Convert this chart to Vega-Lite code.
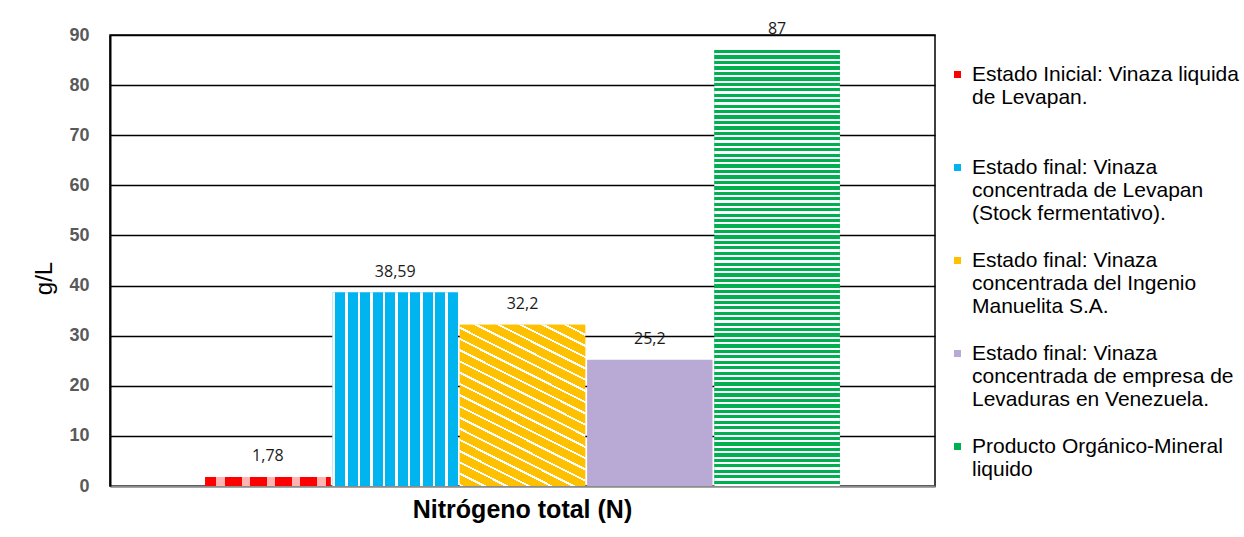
{
  "$schema": "https://vega.github.io/schema/vega-lite/v6.json",
  "width": 825,
  "height": 451,
  "autosize": {"type": "none"},
  "padding": {"left": 110, "top": 35, "right": 309, "bottom": 51},
  "background": "white",
  "config": {
    "locale": {"number": {"decimal": ",", "thousands": ".", "grouping": [3], "currency": ["", " €"]}},
    "view": {"stroke": "#000", "strokeWidth": 1.5},
    "font": "Liberation Sans"
  },
  "data": {
    "values": [
      {"categoria": "Nitrógeno total (N)", "serie": "Estado Inicial: Vinaza liquida|de Levapan.", "valor": 1.78},
      {"categoria": "Nitrógeno total (N)", "serie": "Estado final: Vinaza|concentrada de Levapan|(Stock fermentativo).", "valor": 38.59},
      {"categoria": "Nitrógeno total (N)", "serie": "Estado final: Vinaza|concentrada del Ingenio|Manuelita S.A.", "valor": 32.2},
      {"categoria": "Nitrógeno total (N)", "serie": "Estado final: Vinaza|concentrada de empresa de|Levaduras en Venezuela.", "valor": 25.2},
      {"categoria": "Nitrógeno total (N)", "serie": "Producto Orgánico-Mineral|liquido", "valor": 87}
    ]
  },
  "encoding": {
    "x": {
      "field": "categoria", "type": "nominal", "title": null,
      "scale": {"paddingInner": 0, "paddingOuter": 0.15},
      "axis": {"labelAngle": 0, "labelFontSize": 25, "labelFontWeight": "bold", "labelColor": "#000", "labelPadding": 11, "labelLimit": 0, "ticks": false, "domainColor": "#8c8c8c", "domainWidth": 2}
    },
    "xOffset": {"field": "serie", "type": "nominal", "sort": null, "scale": {"paddingInner": 0.015}},
    "y": {
      "field": "valor", "type": "quantitative", "title": "g/L",
      "scale": {"domain": [0, 90]},
      "axis": {"values": [0, 10, 20, 30, 40, 50, 60, 70, 80, 90], "gridColor": "#000", "gridWidth": 1.5, "ticks": false, "domainColor": "#000", "domainWidth": 2, "labelFontSize": 18, "labelFontWeight": "bold", "labelColor": "#595959", "labelPadding": 21, "titleFontSize": 24, "titleFontWeight": "normal", "titleColor": "#000", "titlePadding": 12, "titleY": 243}
    }
  },
  "layer": [
    {
      "mark": {"type": "bar"},
      "encoding": {
        "color": {
          "field": "serie", "type": "nominal", "sort": null,
          "scale": {"range": ["#FF0000", "#00B4F0", "#FFC000", "#B9AAD5", "#00B050"]},
          "legend": {"title": null, "orient": "none", "legendX": 837, "legendY": 29, "symbolType": "square", "symbolSize": 49, "symbolStrokeWidth": 0, "labelFontSize": 21, "labelColor": "#000", "labelLimit": 0, "labelOffset": 4, "rowPadding": 25, "padding": 0, "labelExpr": "split(datum.label + (indexof(datum.label, 'Inicial') >= 0 ? '| ' : ''), '|')"}
        }
      }
    },
    {
      "transform": [{"filter": "indexof(datum.serie, 'Inicial') >= 0"}],
      "mark": {"type": "bar", "color": {"gradient": "linear", "x1": 0, "y1": 0, "x2": 1, "y2": 0, "stops": [
        {"offset": 0, "color": "#FF0000"}, {"offset": 0.09, "color": "#FF0000"}, {"offset": 0.09, "color": "#FFB3B3"}, {"offset": 0.16, "color": "#FFB3B3"}, {"offset": 0.16, "color": "#FF0000"},
        {"offset": 0.29, "color": "#FF0000"}, {"offset": 0.29, "color": "#FFB3B3"}, {"offset": 0.36, "color": "#FFB3B3"}, {"offset": 0.36, "color": "#FF0000"},
        {"offset": 0.49, "color": "#FF0000"}, {"offset": 0.49, "color": "#FFB3B3"}, {"offset": 0.56, "color": "#FFB3B3"}, {"offset": 0.56, "color": "#FF0000"},
        {"offset": 0.69, "color": "#FF0000"}, {"offset": 0.69, "color": "#FFB3B3"}, {"offset": 0.76, "color": "#FFB3B3"}, {"offset": 0.76, "color": "#FF0000"},
        {"offset": 0.89, "color": "#FF0000"}, {"offset": 0.89, "color": "#FFB3B3"}, {"offset": 0.96, "color": "#FFB3B3"}, {"offset": 0.96, "color": "#FF0000"}, {"offset": 1, "color": "#FF0000"}
      ]}},
      "encoding": {}
    },
    {
      "transform": [{"filter": "indexof(datum.serie, 'Stock') >= 0"}],
      "mark": {"type": "bar", "color": {"gradient": "linear", "x1": 0, "y1": 0, "x2": 1, "y2": 0, "stops": [
        {"offset": 0, "color": "#fff"}, {"offset": 0.02, "color": "#fff"}, {"offset": 0.02, "color": "#00B4F0"}, {"offset": 0.1, "color": "#00B4F0"},
        {"offset": 0.1, "color": "#fff"}, {"offset": 0.12, "color": "#fff"}, {"offset": 0.12, "color": "#00B4F0"}, {"offset": 0.2, "color": "#00B4F0"},
        {"offset": 0.2, "color": "#fff"}, {"offset": 0.22, "color": "#fff"}, {"offset": 0.22, "color": "#00B4F0"}, {"offset": 0.3, "color": "#00B4F0"},
        {"offset": 0.3, "color": "#fff"}, {"offset": 0.32, "color": "#fff"}, {"offset": 0.32, "color": "#00B4F0"}, {"offset": 0.4, "color": "#00B4F0"},
        {"offset": 0.4, "color": "#fff"}, {"offset": 0.42, "color": "#fff"}, {"offset": 0.42, "color": "#00B4F0"}, {"offset": 0.5, "color": "#00B4F0"},
        {"offset": 0.5, "color": "#fff"}, {"offset": 0.52, "color": "#fff"}, {"offset": 0.52, "color": "#00B4F0"}, {"offset": 0.6, "color": "#00B4F0"},
        {"offset": 0.6, "color": "#fff"}, {"offset": 0.62, "color": "#fff"}, {"offset": 0.62, "color": "#00B4F0"}, {"offset": 0.7, "color": "#00B4F0"},
        {"offset": 0.7, "color": "#fff"}, {"offset": 0.72, "color": "#fff"}, {"offset": 0.72, "color": "#00B4F0"}, {"offset": 0.8, "color": "#00B4F0"},
        {"offset": 0.8, "color": "#fff"}, {"offset": 0.82, "color": "#fff"}, {"offset": 0.82, "color": "#00B4F0"}, {"offset": 0.9, "color": "#00B4F0"},
        {"offset": 0.9, "color": "#fff"}, {"offset": 0.92, "color": "#fff"}, {"offset": 0.92, "color": "#00B4F0"}, {"offset": 1, "color": "#00B4F0"}
      ]}},
      "encoding": {}
    },
    {
      "transform": [{"filter": "indexof(datum.serie, 'Manuelita') >= 0"}],
      "mark": {"type": "bar", "color": {"gradient": "linear", "x1": 1, "y1": 0, "x2": 0.528, "y2": 1.2065, "stops": [
        {"offset": 0, "color": "#FFC000"}, {"offset": 0.04, "color": "#FFC000"}, {"offset": 0.04, "color": "#fff"}, {"offset": 0.05, "color": "#fff"},
        {"offset": 0.05, "color": "#FFC000"}, {"offset": 0.09, "color": "#FFC000"}, {"offset": 0.09, "color": "#fff"}, {"offset": 0.1, "color": "#fff"},
        {"offset": 0.1, "color": "#FFC000"}, {"offset": 0.14, "color": "#FFC000"}, {"offset": 0.14, "color": "#fff"}, {"offset": 0.15, "color": "#fff"},
        {"offset": 0.15, "color": "#FFC000"}, {"offset": 0.19, "color": "#FFC000"}, {"offset": 0.19, "color": "#fff"}, {"offset": 0.2, "color": "#fff"},
        {"offset": 0.2, "color": "#FFC000"}, {"offset": 0.24, "color": "#FFC000"}, {"offset": 0.24, "color": "#fff"}, {"offset": 0.25, "color": "#fff"},
        {"offset": 0.25, "color": "#FFC000"}, {"offset": 0.29, "color": "#FFC000"}, {"offset": 0.29, "color": "#fff"}, {"offset": 0.3, "color": "#fff"},
        {"offset": 0.3, "color": "#FFC000"}, {"offset": 0.34, "color": "#FFC000"}, {"offset": 0.34, "color": "#fff"}, {"offset": 0.35, "color": "#fff"},
        {"offset": 0.35, "color": "#FFC000"}, {"offset": 0.39, "color": "#FFC000"}, {"offset": 0.39, "color": "#fff"}, {"offset": 0.4, "color": "#fff"},
        {"offset": 0.4, "color": "#FFC000"}, {"offset": 0.44, "color": "#FFC000"}, {"offset": 0.44, "color": "#fff"}, {"offset": 0.45, "color": "#fff"},
        {"offset": 0.45, "color": "#FFC000"}, {"offset": 0.49, "color": "#FFC000"}, {"offset": 0.49, "color": "#fff"}, {"offset": 0.5, "color": "#fff"},
        {"offset": 0.5, "color": "#FFC000"}, {"offset": 0.54, "color": "#FFC000"}, {"offset": 0.54, "color": "#fff"}, {"offset": 0.55, "color": "#fff"},
        {"offset": 0.55, "color": "#FFC000"}, {"offset": 0.59, "color": "#FFC000"}, {"offset": 0.59, "color": "#fff"}, {"offset": 0.6, "color": "#fff"},
        {"offset": 0.6, "color": "#FFC000"}, {"offset": 0.64, "color": "#FFC000"}, {"offset": 0.64, "color": "#fff"}, {"offset": 0.65, "color": "#fff"},
        {"offset": 0.65, "color": "#FFC000"}, {"offset": 0.69, "color": "#FFC000"}, {"offset": 0.69, "color": "#fff"}, {"offset": 0.7, "color": "#fff"},
        {"offset": 0.7, "color": "#FFC000"}, {"offset": 0.74, "color": "#FFC000"}, {"offset": 0.74, "color": "#fff"}, {"offset": 0.75, "color": "#fff"},
        {"offset": 0.75, "color": "#FFC000"}, {"offset": 0.79, "color": "#FFC000"}, {"offset": 0.79, "color": "#fff"}, {"offset": 0.8, "color": "#fff"},
        {"offset": 0.8, "color": "#FFC000"}, {"offset": 0.84, "color": "#FFC000"}, {"offset": 0.84, "color": "#fff"}, {"offset": 0.85, "color": "#fff"},
        {"offset": 0.85, "color": "#FFC000"}, {"offset": 0.89, "color": "#FFC000"}, {"offset": 0.89, "color": "#fff"}, {"offset": 0.9, "color": "#fff"},
        {"offset": 0.9, "color": "#FFC000"}, {"offset": 0.94, "color": "#FFC000"}, {"offset": 0.94, "color": "#fff"}, {"offset": 0.95, "color": "#fff"},
        {"offset": 0.95, "color": "#FFC000"}, {"offset": 0.99, "color": "#FFC000"}, {"offset": 0.99, "color": "#fff"}, {"offset": 1, "color": "#fff"}
      ]}},
      "encoding": {}
    },
    {
      "transform": [{"filter": "indexof(datum.serie, 'Producto') >= 0"}],
      "mark": {"type": "bar", "color": {"gradient": "linear", "x1": 0, "y1": 0, "x2": 0, "y2": 1, "stops": [
        {"offset": 0, "color": "#00B050"}, {"offset": 0.0075, "color": "#00B050"}, {"offset": 0.0075, "color": "#fff"}, {"offset": 0.0125, "color": "#fff"},
        {"offset": 0.0125, "color": "#00B050"}, {"offset": 0.02, "color": "#00B050"}, {"offset": 0.02, "color": "#fff"}, {"offset": 0.025, "color": "#fff"},
        {"offset": 0.025, "color": "#00B050"}, {"offset": 0.0325, "color": "#00B050"}, {"offset": 0.0325, "color": "#fff"}, {"offset": 0.0375, "color": "#fff"},
        {"offset": 0.0375, "color": "#00B050"}, {"offset": 0.045, "color": "#00B050"}, {"offset": 0.045, "color": "#fff"}, {"offset": 0.05, "color": "#fff"},
        {"offset": 0.05, "color": "#00B050"}, {"offset": 0.0575, "color": "#00B050"}, {"offset": 0.0575, "color": "#fff"}, {"offset": 0.0625, "color": "#fff"},
        {"offset": 0.0625, "color": "#00B050"}, {"offset": 0.07, "color": "#00B050"}, {"offset": 0.07, "color": "#fff"}, {"offset": 0.075, "color": "#fff"},
        {"offset": 0.075, "color": "#00B050"}, {"offset": 0.0825, "color": "#00B050"}, {"offset": 0.0825, "color": "#fff"}, {"offset": 0.0875, "color": "#fff"},
        {"offset": 0.0875, "color": "#00B050"}, {"offset": 0.095, "color": "#00B050"}, {"offset": 0.095, "color": "#fff"}, {"offset": 0.1, "color": "#fff"},
        {"offset": 0.1, "color": "#00B050"}, {"offset": 0.1075, "color": "#00B050"}, {"offset": 0.1075, "color": "#fff"}, {"offset": 0.1125, "color": "#fff"},
        {"offset": 0.1125, "color": "#00B050"}, {"offset": 0.12, "color": "#00B050"}, {"offset": 0.12, "color": "#fff"}, {"offset": 0.125, "color": "#fff"},
        {"offset": 0.125, "color": "#00B050"}, {"offset": 0.1325, "color": "#00B050"}, {"offset": 0.1325, "color": "#fff"}, {"offset": 0.1375, "color": "#fff"},
        {"offset": 0.1375, "color": "#00B050"}, {"offset": 0.145, "color": "#00B050"}, {"offset": 0.145, "color": "#fff"}, {"offset": 0.15, "color": "#fff"},
        {"offset": 0.15, "color": "#00B050"}, {"offset": 0.1575, "color": "#00B050"}, {"offset": 0.1575, "color": "#fff"}, {"offset": 0.1625, "color": "#fff"},
        {"offset": 0.1625, "color": "#00B050"}, {"offset": 0.17, "color": "#00B050"}, {"offset": 0.17, "color": "#fff"}, {"offset": 0.175, "color": "#fff"},
        {"offset": 0.175, "color": "#00B050"}, {"offset": 0.1825, "color": "#00B050"}, {"offset": 0.1825, "color": "#fff"}, {"offset": 0.1875, "color": "#fff"},
        {"offset": 0.1875, "color": "#00B050"}, {"offset": 0.195, "color": "#00B050"}, {"offset": 0.195, "color": "#fff"}, {"offset": 0.2, "color": "#fff"},
        {"offset": 0.2, "color": "#00B050"}, {"offset": 0.2075, "color": "#00B050"}, {"offset": 0.2075, "color": "#fff"}, {"offset": 0.2125, "color": "#fff"},
        {"offset": 0.2125, "color": "#00B050"}, {"offset": 0.22, "color": "#00B050"}, {"offset": 0.22, "color": "#fff"}, {"offset": 0.225, "color": "#fff"},
        {"offset": 0.225, "color": "#00B050"}, {"offset": 0.2325, "color": "#00B050"}, {"offset": 0.2325, "color": "#fff"}, {"offset": 0.2375, "color": "#fff"},
        {"offset": 0.2375, "color": "#00B050"}, {"offset": 0.245, "color": "#00B050"}, {"offset": 0.245, "color": "#fff"}, {"offset": 0.25, "color": "#fff"},
        {"offset": 0.25, "color": "#00B050"}, {"offset": 0.2575, "color": "#00B050"}, {"offset": 0.2575, "color": "#fff"}, {"offset": 0.2625, "color": "#fff"},
        {"offset": 0.2625, "color": "#00B050"}, {"offset": 0.27, "color": "#00B050"}, {"offset": 0.27, "color": "#fff"}, {"offset": 0.275, "color": "#fff"},
        {"offset": 0.275, "color": "#00B050"}, {"offset": 0.2825, "color": "#00B050"}, {"offset": 0.2825, "color": "#fff"}, {"offset": 0.2875, "color": "#fff"},
        {"offset": 0.2875, "color": "#00B050"}, {"offset": 0.295, "color": "#00B050"}, {"offset": 0.295, "color": "#fff"}, {"offset": 0.3, "color": "#fff"},
        {"offset": 0.3, "color": "#00B050"}, {"offset": 0.3075, "color": "#00B050"}, {"offset": 0.3075, "color": "#fff"}, {"offset": 0.3125, "color": "#fff"},
        {"offset": 0.3125, "color": "#00B050"}, {"offset": 0.32, "color": "#00B050"}, {"offset": 0.32, "color": "#fff"}, {"offset": 0.325, "color": "#fff"},
        {"offset": 0.325, "color": "#00B050"}, {"offset": 0.3325, "color": "#00B050"}, {"offset": 0.3325, "color": "#fff"}, {"offset": 0.3375, "color": "#fff"},
        {"offset": 0.3375, "color": "#00B050"}, {"offset": 0.345, "color": "#00B050"}, {"offset": 0.345, "color": "#fff"}, {"offset": 0.35, "color": "#fff"},
        {"offset": 0.35, "color": "#00B050"}, {"offset": 0.3575, "color": "#00B050"}, {"offset": 0.3575, "color": "#fff"}, {"offset": 0.3625, "color": "#fff"},
        {"offset": 0.3625, "color": "#00B050"}, {"offset": 0.37, "color": "#00B050"}, {"offset": 0.37, "color": "#fff"}, {"offset": 0.375, "color": "#fff"},
        {"offset": 0.375, "color": "#00B050"}, {"offset": 0.3825, "color": "#00B050"}, {"offset": 0.3825, "color": "#fff"}, {"offset": 0.3875, "color": "#fff"},
        {"offset": 0.3875, "color": "#00B050"}, {"offset": 0.395, "color": "#00B050"}, {"offset": 0.395, "color": "#fff"}, {"offset": 0.4, "color": "#fff"},
        {"offset": 0.4, "color": "#00B050"}, {"offset": 0.4075, "color": "#00B050"}, {"offset": 0.4075, "color": "#fff"}, {"offset": 0.4125, "color": "#fff"},
        {"offset": 0.4125, "color": "#00B050"}, {"offset": 0.42, "color": "#00B050"}, {"offset": 0.42, "color": "#fff"}, {"offset": 0.425, "color": "#fff"},
        {"offset": 0.425, "color": "#00B050"}, {"offset": 0.4325, "color": "#00B050"}, {"offset": 0.4325, "color": "#fff"}, {"offset": 0.4375, "color": "#fff"},
        {"offset": 0.4375, "color": "#00B050"}, {"offset": 0.445, "color": "#00B050"}, {"offset": 0.445, "color": "#fff"}, {"offset": 0.45, "color": "#fff"},
        {"offset": 0.45, "color": "#00B050"}, {"offset": 0.4575, "color": "#00B050"}, {"offset": 0.4575, "color": "#fff"}, {"offset": 0.4625, "color": "#fff"},
        {"offset": 0.4625, "color": "#00B050"}, {"offset": 0.47, "color": "#00B050"}, {"offset": 0.47, "color": "#fff"}, {"offset": 0.475, "color": "#fff"},
        {"offset": 0.475, "color": "#00B050"}, {"offset": 0.4825, "color": "#00B050"}, {"offset": 0.4825, "color": "#fff"}, {"offset": 0.4875, "color": "#fff"},
        {"offset": 0.4875, "color": "#00B050"}, {"offset": 0.495, "color": "#00B050"}, {"offset": 0.495, "color": "#fff"}, {"offset": 0.5, "color": "#fff"},
        {"offset": 0.5, "color": "#00B050"}, {"offset": 0.5075, "color": "#00B050"}, {"offset": 0.5075, "color": "#fff"}, {"offset": 0.5125, "color": "#fff"},
        {"offset": 0.5125, "color": "#00B050"}, {"offset": 0.52, "color": "#00B050"}, {"offset": 0.52, "color": "#fff"}, {"offset": 0.525, "color": "#fff"},
        {"offset": 0.525, "color": "#00B050"}, {"offset": 0.5325, "color": "#00B050"}, {"offset": 0.5325, "color": "#fff"}, {"offset": 0.5375, "color": "#fff"},
        {"offset": 0.5375, "color": "#00B050"}, {"offset": 0.545, "color": "#00B050"}, {"offset": 0.545, "color": "#fff"}, {"offset": 0.55, "color": "#fff"},
        {"offset": 0.55, "color": "#00B050"}, {"offset": 0.5575, "color": "#00B050"}, {"offset": 0.5575, "color": "#fff"}, {"offset": 0.5625, "color": "#fff"},
        {"offset": 0.5625, "color": "#00B050"}, {"offset": 0.57, "color": "#00B050"}, {"offset": 0.57, "color": "#fff"}, {"offset": 0.575, "color": "#fff"},
        {"offset": 0.575, "color": "#00B050"}, {"offset": 0.5825, "color": "#00B050"}, {"offset": 0.5825, "color": "#fff"}, {"offset": 0.5875, "color": "#fff"},
        {"offset": 0.5875, "color": "#00B050"}, {"offset": 0.595, "color": "#00B050"}, {"offset": 0.595, "color": "#fff"}, {"offset": 0.6, "color": "#fff"},
        {"offset": 0.6, "color": "#00B050"}, {"offset": 0.6075, "color": "#00B050"}, {"offset": 0.6075, "color": "#fff"}, {"offset": 0.6125, "color": "#fff"},
        {"offset": 0.6125, "color": "#00B050"}, {"offset": 0.62, "color": "#00B050"}, {"offset": 0.62, "color": "#fff"}, {"offset": 0.625, "color": "#fff"},
        {"offset": 0.625, "color": "#00B050"}, {"offset": 0.6325, "color": "#00B050"}, {"offset": 0.6325, "color": "#fff"}, {"offset": 0.6375, "color": "#fff"},
        {"offset": 0.6375, "color": "#00B050"}, {"offset": 0.645, "color": "#00B050"}, {"offset": 0.645, "color": "#fff"}, {"offset": 0.65, "color": "#fff"},
        {"offset": 0.65, "color": "#00B050"}, {"offset": 0.6575, "color": "#00B050"}, {"offset": 0.6575, "color": "#fff"}, {"offset": 0.6625, "color": "#fff"},
        {"offset": 0.6625, "color": "#00B050"}, {"offset": 0.67, "color": "#00B050"}, {"offset": 0.67, "color": "#fff"}, {"offset": 0.675, "color": "#fff"},
        {"offset": 0.675, "color": "#00B050"}, {"offset": 0.6825, "color": "#00B050"}, {"offset": 0.6825, "color": "#fff"}, {"offset": 0.6875, "color": "#fff"},
        {"offset": 0.6875, "color": "#00B050"}, {"offset": 0.695, "color": "#00B050"}, {"offset": 0.695, "color": "#fff"}, {"offset": 0.7, "color": "#fff"},
        {"offset": 0.7, "color": "#00B050"}, {"offset": 0.7075, "color": "#00B050"}, {"offset": 0.7075, "color": "#fff"}, {"offset": 0.7125, "color": "#fff"},
        {"offset": 0.7125, "color": "#00B050"}, {"offset": 0.72, "color": "#00B050"}, {"offset": 0.72, "color": "#fff"}, {"offset": 0.725, "color": "#fff"},
        {"offset": 0.725, "color": "#00B050"}, {"offset": 0.7325, "color": "#00B050"}, {"offset": 0.7325, "color": "#fff"}, {"offset": 0.7375, "color": "#fff"},
        {"offset": 0.7375, "color": "#00B050"}, {"offset": 0.745, "color": "#00B050"}, {"offset": 0.745, "color": "#fff"}, {"offset": 0.75, "color": "#fff"},
        {"offset": 0.75, "color": "#00B050"}, {"offset": 0.7575, "color": "#00B050"}, {"offset": 0.7575, "color": "#fff"}, {"offset": 0.7625, "color": "#fff"},
        {"offset": 0.7625, "color": "#00B050"}, {"offset": 0.77, "color": "#00B050"}, {"offset": 0.77, "color": "#fff"}, {"offset": 0.775, "color": "#fff"},
        {"offset": 0.775, "color": "#00B050"}, {"offset": 0.7825, "color": "#00B050"}, {"offset": 0.7825, "color": "#fff"}, {"offset": 0.7875, "color": "#fff"},
        {"offset": 0.7875, "color": "#00B050"}, {"offset": 0.795, "color": "#00B050"}, {"offset": 0.795, "color": "#fff"}, {"offset": 0.8, "color": "#fff"},
        {"offset": 0.8, "color": "#00B050"}, {"offset": 0.8075, "color": "#00B050"}, {"offset": 0.8075, "color": "#fff"}, {"offset": 0.8125, "color": "#fff"},
        {"offset": 0.8125, "color": "#00B050"}, {"offset": 0.82, "color": "#00B050"}, {"offset": 0.82, "color": "#fff"}, {"offset": 0.825, "color": "#fff"},
        {"offset": 0.825, "color": "#00B050"}, {"offset": 0.8325, "color": "#00B050"}, {"offset": 0.8325, "color": "#fff"}, {"offset": 0.8375, "color": "#fff"},
        {"offset": 0.8375, "color": "#00B050"}, {"offset": 0.845, "color": "#00B050"}, {"offset": 0.845, "color": "#fff"}, {"offset": 0.85, "color": "#fff"},
        {"offset": 0.85, "color": "#00B050"}, {"offset": 0.8575, "color": "#00B050"}, {"offset": 0.8575, "color": "#fff"}, {"offset": 0.8625, "color": "#fff"},
        {"offset": 0.8625, "color": "#00B050"}, {"offset": 0.87, "color": "#00B050"}, {"offset": 0.87, "color": "#fff"}, {"offset": 0.875, "color": "#fff"},
        {"offset": 0.875, "color": "#00B050"}, {"offset": 0.8825, "color": "#00B050"}, {"offset": 0.8825, "color": "#fff"}, {"offset": 0.8875, "color": "#fff"},
        {"offset": 0.8875, "color": "#00B050"}, {"offset": 0.895, "color": "#00B050"}, {"offset": 0.895, "color": "#fff"}, {"offset": 0.9, "color": "#fff"},
        {"offset": 0.9, "color": "#00B050"}, {"offset": 0.9075, "color": "#00B050"}, {"offset": 0.9075, "color": "#fff"}, {"offset": 0.9125, "color": "#fff"},
        {"offset": 0.9125, "color": "#00B050"}, {"offset": 0.92, "color": "#00B050"}, {"offset": 0.92, "color": "#fff"}, {"offset": 0.925, "color": "#fff"},
        {"offset": 0.925, "color": "#00B050"}, {"offset": 0.9325, "color": "#00B050"}, {"offset": 0.9325, "color": "#fff"}, {"offset": 0.9375, "color": "#fff"},
        {"offset": 0.9375, "color": "#00B050"}, {"offset": 0.945, "color": "#00B050"}, {"offset": 0.945, "color": "#fff"}, {"offset": 0.95, "color": "#fff"},
        {"offset": 0.95, "color": "#00B050"}, {"offset": 0.9575, "color": "#00B050"}, {"offset": 0.9575, "color": "#fff"}, {"offset": 0.9625, "color": "#fff"},
        {"offset": 0.9625, "color": "#00B050"}, {"offset": 0.97, "color": "#00B050"}, {"offset": 0.97, "color": "#fff"}, {"offset": 0.975, "color": "#fff"},
        {"offset": 0.975, "color": "#00B050"}, {"offset": 0.9825, "color": "#00B050"}, {"offset": 0.9825, "color": "#fff"}, {"offset": 0.9875, "color": "#fff"},
        {"offset": 0.9875, "color": "#00B050"}, {"offset": 0.995, "color": "#00B050"}, {"offset": 0.995, "color": "#fff"}, {"offset": 1, "color": "#fff"}
      ]}},
      "encoding": {}
    },
    {
      "mark": {"type": "text", "baseline": "bottom", "dy": -13, "fontSize": 16, "font": "Open Sans", "color": "#1a1a1a"},
      "encoding": {"text": {"field": "valor", "type": "quantitative", "format": ".4~r"}}
    }
  ]
}
